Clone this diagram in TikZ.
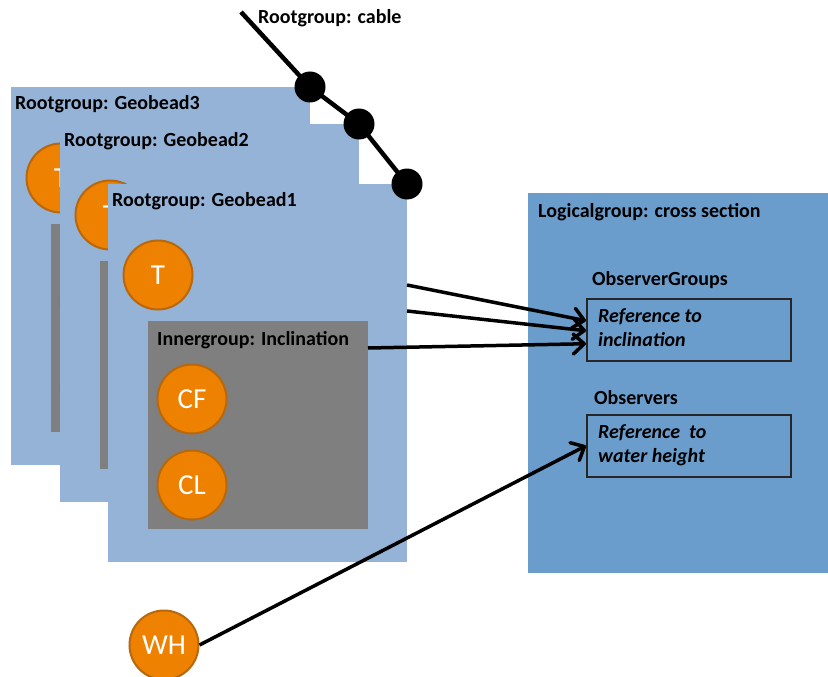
\documentclass[tikz,border=0pt]{standalone}
\usepackage{fontspec}
\setmainfont{Carlito}
\usetikzlibrary{arrows.meta,calc}
\definecolor{beadblue}{HTML}{95B3D7}
\definecolor{logblue}{HTML}{6A9DCB}
\definecolor{innergray}{HTML}{7F7F7F}
\definecolor{orangefill}{HTML}{EE8100}
\definecolor{orangeline}{HTML}{B8680C}
% #1,#2: top-left corner; #3: number; #4: inner title; #5,#6: inner sensor texts
\newcommand{\drawbead}[6]{%
  \node[beadbox] (g#3) at (#1,#2) {};
  \node[lbl] (g#3title) at (#1+4,#2+17) {Rootgroup: Geobead#3};
  \node[sensor] (t#3) at (#1+50,#2+91) {T};
  \node[innerbox] (in#3) at (#1+40,#2+137) {};
  \node[lbl] (in#3title) at (#1+49,#2+156) {#4};
  \node[sensor] (cf#3) at (#1+84,#2+215) {#5};
  \node[sensor] (cl#3) at (#1+84,#2+301) {#6};
}
\begin{document}
\begin{tikzpicture}[x=1pt,y=-1pt,
  beadbox/.style={fill=beadblue,draw=none,minimum width=299pt,minimum height=378pt,anchor=north west,inner sep=0pt,outer sep=0pt},
  innerbox/.style={fill=innergray,draw=none,minimum width=220pt,minimum height=208pt,anchor=north west,inner sep=0pt,outer sep=0pt},
  lbl/.style={anchor=west,inner sep=0pt,font=\fontsize{20}{22}\selectfont\bfseries},
  reftext/.style={font=\fontsize{20}{24}\selectfont\bfseries\itshape,align=left,inner sep=0pt,anchor=north west},
  sensor/.style={circle,fill=orangefill,draw=orangeline,line width=2pt,minimum size=69pt,inner sep=0pt,text=white,font=\fontsize{29}{30}\selectfont},
  bead/.style={circle,fill=black,minimum size=31pt,inner sep=0pt},
  refbox/.style={draw=black!85,line width=1.5pt,minimum width=204pt,minimum height=62pt,anchor=north west,inner sep=0pt},
  arr/.style={line width=3.5pt,line join=round,-{Straight Barb[length=11pt,width=20pt,line width=3.5pt,round]}}
]
\useasboundingbox (0,0) rectangle (828,677);
\fill[white] (0,0) rectangle (828,677);
% stacked root groups, back to front
\drawbead{11}{87}{3}{}{}{}
\drawbead{60}{124}{2}{}{}{}
\drawbead{108}{184}{1}{Innergroup: Inclination}{CF}{CL}
% cable
\coordinate (cabletop) at (241,12);
\node[bead] (b1) at (g3.north east) {};
\node[bead] (b2) at (g2.north east) {};
\node[bead] (b3) at (g1.north east) {};
\draw[line width=4.5pt] (cabletop) -- (b1.center) -- (b2.center) -- (b3.center);
\node[lbl] (cablelbl) at (258,18) {Rootgroup: cable};
% logical group
\node[fill=logblue,draw=none,minimum width=300pt,minimum height=380pt,anchor=north west,inner sep=0pt] (lg) at (528,193) {};
\node[lbl] (lglbl) at (538,212) {Logicalgroup: cross section};
\node[lbl] (oglbl) at (592,280) {ObserverGroups};
\node[refbox] (ref1) at (586,298) {};
\node[reftext] (ref1t) at (598,308) {Reference to\\inclination};
\node[lbl] (oblbl) at (594,398) {Observers};
\node[refbox] (ref2) at (586,414) {};
\node[reftext] (ref2t) at (598,424) {Reference\ \ to\\water height};
% water height sensor
\node[sensor] (wh) at (164,645) {WH};
% connectors
\coordinate (s1) at ($(g1.north east)+(0,101)$);
\coordinate (s2) at ($(g1.north east)+(0,127)$);
\coordinate (s3) at ($(in1.north east)+(0,27)$);
\draw[arr] (s1) -- ([yshift=9pt]ref1.west);
\draw[arr] (s2) -- ([yshift=-1pt]ref1.west);
\draw[arr] (s3) -- ([yshift=-14pt]ref1.west);
\draw[arr] (wh.east) -- (ref2.west);
\end{tikzpicture}
\end{document}
